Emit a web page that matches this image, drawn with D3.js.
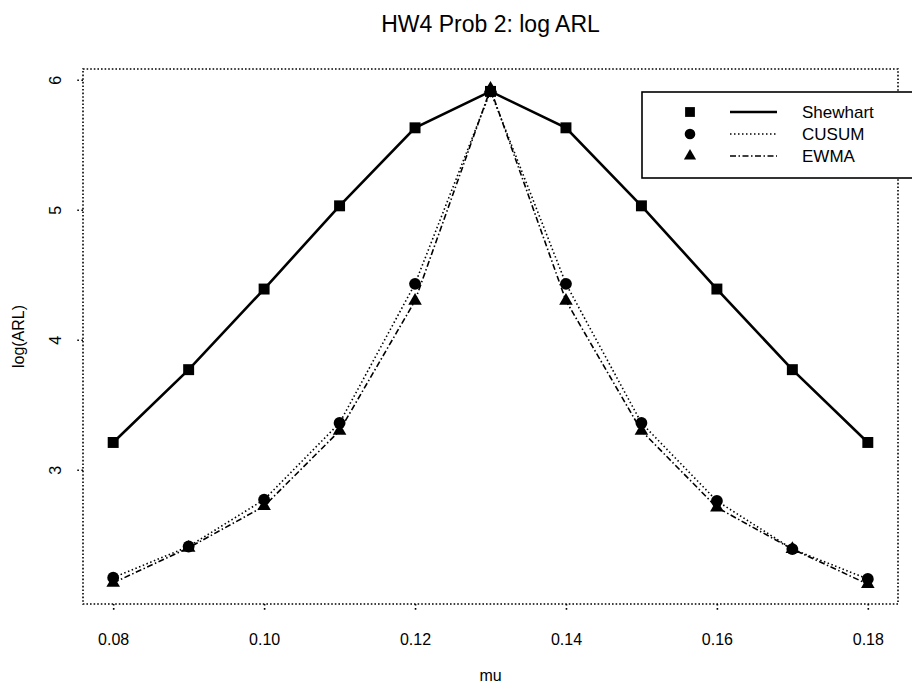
<!DOCTYPE html>
<html>
<head>
<meta charset="utf-8">
<script src="https://cdn.jsdelivr.net/npm/d3@7"></script>
<style>
  body { margin: 0; background: #fff; }
  svg text { font-family: "Liberation Sans", Arial, Helvetica, sans-serif; fill: #000; }
</style>
</head>
<body>
<div id="chart"></div>
<script>
// data
const mu = [0.08, 0.09, 0.10, 0.11, 0.12, 0.13, 0.14, 0.15, 0.16, 0.17, 0.18];
const shewhart = [3.21, 3.77, 4.39, 5.03, 5.63, 5.91, 5.63, 5.03, 4.39, 3.77, 3.21];
const cusum = [2.17, 2.41, 2.77, 3.36, 4.43, 5.91, 4.43, 3.36, 2.76, 2.39, 2.16];
const ewma = [2.13, 2.40, 2.72, 3.30, 4.30, 5.93, 4.30, 3.30, 2.71, 2.39, 2.12];
const xTicks = [0.08, 0.10, 0.12, 0.14, 0.16, 0.18];
const yTicks = [3, 4, 5, 6];
const seriesNames = ['Shewhart', 'CUSUM', 'EWMA'];

const W = 912, H = 686;
const plot = { left: 83, right: 898, top: 69, bottom: 604 };

const svg = d3.select('#chart')
    .append('svg')
    .attr('width', W)
    .attr('height', H);

// R style 4% padding on both axes
const xr = d3.extent(mu);
const xpad = (xr[1] - xr[0]) * 0.04;
const x = d3.scaleLinear()
    .domain([xr[0] - xpad, xr[1] + xpad])
    .range([plot.left, plot.right]);

const yr = d3.extent(shewhart.concat(cusum, ewma));
const ypad = (yr[1] - yr[0]) * 0.04;
const y = d3.scaleLinear()
    .domain([yr[0] - ypad, yr[1] + ypad])
    .range([plot.bottom, plot.top]);

// dotted box
svg.append('rect')
    .attr('x', plot.left)
    .attr('y', plot.top)
    .attr('width', plot.right - plot.left)
    .attr('height', plot.bottom - plot.top)
    .attr('fill', 'none')
    .attr('stroke', '#000')
    .attr('stroke-width', 1.6)
    .attr('stroke-dasharray', '1.6,2');

// axes
const xAxis = svg.append('g')
    .attr('transform', `translate(0,${plot.bottom})`)
    .call(d3.axisBottom(x).tickValues(xTicks).tickFormat(d3.format('.2f')).tickSize(8).tickPadding(22));
const yAxis = svg.append('g')
    .attr('transform', `translate(${plot.left},0)`)
    .call(d3.axisLeft(y).tickValues(yTicks).tickFormat(d3.format('d')).tickSize(8).tickPadding(12));

[xAxis, yAxis].forEach(g => {
    g.select('.domain').remove();
    g.selectAll('.tick line')
        .attr('stroke', '#000')
        .attr('stroke-width', 1.6)
        .attr('stroke-dasharray', '1.6,2.5');
    g.selectAll('.tick text')
        .style('font-size', '16px')
        .attr('fill', '#000');
});

// rotate y tick labels like R's las=0
yAxis.selectAll('.tick text')
    .attr('x', 0)
    .attr('dy', 0)
    .attr('transform', 'translate(-22,0) rotate(-90)')
    .style('text-anchor', 'middle');

// titles
svg.append('text')
    .attr('x', (plot.left + plot.right) / 2)
    .attr('y', 32)
    .attr('text-anchor', 'middle')
    .style('font-size', '23px')
    .text('HW4 Prob 2: log ARL');

svg.append('text')
    .attr('x', (plot.left + plot.right) / 2)
    .attr('y', 681)
    .attr('text-anchor', 'middle')
    .style('font-size', '16px')
    .text('mu');

svg.append('text')
    .attr('transform', `translate(24,${(plot.top + plot.bottom) / 2}) rotate(-90)`)
    .attr('text-anchor', 'middle')
    .style('font-size', '16px')
    .text('log(ARL)');

// series
const styles = [
    { values: shewhart, dash: null, width: 2.6, shape: d3.symbolSquare, size: 120 },
    { values: cusum, dash: '1.5,2.5', width: 1.6, shape: d3.symbolCircle, size: 110 },
    { values: ewma, dash: '6,2.5,1.5,2.5', width: 1.6, shape: d3.symbolTriangle, size: 80 }
];

const line = d3.line()
    .x(d => x(d[0]))
    .y(d => y(d[1]));

styles.forEach(s => {
    const pts = mu.map((m, i) => [m, s.values[i]]);
    svg.append('path')
        .datum(pts)
        .attr('d', line)
        .attr('fill', 'none')
        .attr('stroke', '#000')
        .attr('stroke-width', s.width)
        .attr('stroke-dasharray', s.dash);

    svg.selectAll(null)
        .data(pts)
        .enter()
        .append('path')
        .attr('d', d3.symbol().type(s.shape).size(s.size))
        .attr('transform', d => `translate(${x(d[0])},${y(d[1])})`)
        .attr('fill', '#000');
});

// legend
const legend = svg.append('g');
legend.append('rect')
    .attr('x', 642)
    .attr('y', 92)
    .attr('width', 290)
    .attr('height', 86)
    .attr('fill', '#fff')
    .attr('stroke', '#000')
    .attr('stroke-width', 1.6);

const items = legend.selectAll('.legend-item')
    .data(styles)
    .enter()
    .append('g')
    .attr('class', 'legend-item')
    .attr('transform', (d, i) => `translate(0,${112 + i * 22})`);

items.append('path')
    .attr('d', d => d3.symbol().type(d.shape).size(d.size * 0.8)())
    .attr('transform', 'translate(690,0)')
    .attr('fill', '#000');

items.append('line')
    .attr('x1', 730)
    .attr('x2', 777)
    .attr('stroke', '#000')
    .attr('stroke-width', d => d.width)
    .attr('stroke-dasharray', d => d.dash);

items.append('text')
    .attr('x', 802)
    .attr('dy', '0.35em')
    .style('font-size', '17px')
    .text((d, i) => seriesNames[i]);
</script>
</body>
</html>
